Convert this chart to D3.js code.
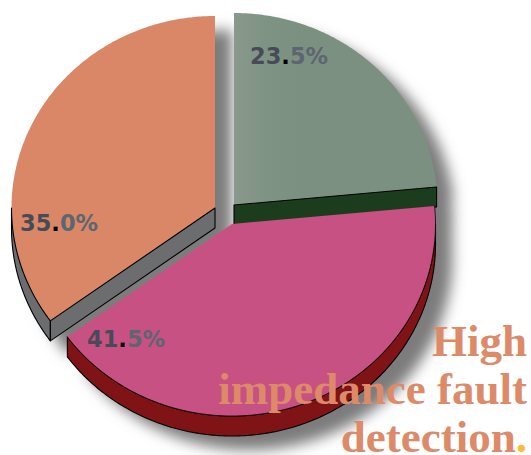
<!DOCTYPE html>
<html><head><meta charset="utf-8">
<script src="https://cdn.jsdelivr.net/npm/d3@7/dist/d3.min.js"></script>
<style>html,body{margin:0;padding:0;background:#fff}svg{display:block}</style>
</head><body><svg id="c" width="531" height="455"></svg>
<script>
const categories = ["A","B","C"];
const values = [23.5, 41.5, 35.0];
const whole = ["23","41","35"];
const fraction = ["5%","5%","0%"];
const titleLines = ["High","impedance fault","detection"];
const topColors = ["url(#gGreen)","#c85184","#d98766"];
const wallColors = ["#1c3d1d","#7f1315","#6b6d6e"];
const centers = [[234,205],[232,224],[215,208]];
const labelPos = [[250,64],[87,347],[20,231]];
const RX = 203.5, RY = 192, DEPTH = 20;

const svg = d3.select("#c");
const defs = svg.append("defs");
const grad = defs.append("linearGradient").attr("id","gGreen").attr("x1",0).attr("x2",1).attr("y1",0).attr("y2",0);
grad.append("stop").attr("offset","0").attr("stop-color","#89998d");
grad.append("stop").attr("offset","0.15").attr("stop-color","#7f9384");
grad.append("stop").attr("offset","0.35").attr("stop-color","#7b9080");
grad.append("stop").attr("offset","1").attr("stop-color","#7b9080");
const blur = defs.append("filter").attr("id","soft").attr("x","-20%").attr("y","-20%").attr("width","140%").attr("height","140%");
blur.append("feGaussianBlur").attr("stdDeviation",7);

const arcs = d3.pie().sort(null).value(d=>d)(values);
const line = d3.line();
const pt = (c,a,dy=0)=>[c[0]+RX*Math.sin(a), c[1]-RY*Math.cos(a)+dy];
const rim = (c,a0,a1,dy=0)=>{
  const n = Math.max(2,Math.ceil(Math.abs(a1-a0)/0.01));
  return d3.range(n+1).map(i=>pt(c,a0+(a1-a0)*i/n,dy));
};
const face = (arc,c,dy=0)=>[[c[0],c[1]+dy],...rim(c,arc.startAngle,arc.endAngle,dy)];
const closed = p=>line(p)+"Z";
const box = (p,q)=>[[p[0],p[1]],[q[0],q[1]],[q[0],q[1]+DEPTH],[p[0],p[1]+DEPTH]];

// soft drop shadows
const sh = svg.append("g").attr("filter","url(#soft)").attr("transform","translate(17,14)").attr("fill","#7c7c7c");
arcs.forEach((a,i)=>{
  const c = centers[i];
  sh.append("path").attr("d",closed(face(a,c)));
  sh.append("path").attr("d",closed(face(a,c,DEPTH)));
});

const wall = (p,fill)=>svg.append("path").attr("d",closed(p)).attr("fill",fill).attr("stroke","#000").attr("stroke-width",1.1).attr("stroke-linejoin","round");

// green slice
{
  const a=arcs[0], c=centers[0];
  svg.append("path").attr("d",closed(face(a,c))).attr("fill",topColors[0]);
  wall(box(c,pt(c,a.endAngle)),wallColors[0]);
}
// pink slice
{
  const a=arcs[1], c=centers[1];
  const outer = rim(c,Math.PI/2,a.endAngle);
  wall([...outer,...outer.map(p=>[p[0],p[1]+DEPTH]).reverse()],wallColors[1]);
  svg.append("path").attr("d",closed(face(a,c))).attr("fill",topColors[1]);
  svg.append("path").attr("d",line(rim(c,a.startAngle,a.endAngle))).attr("fill","none").attr("stroke","#000").attr("stroke-width",0.8);
}
// orange slice
{
  const a=arcs[2], c=centers[2];
  const outer = rim(c,a.startAngle,Math.PI*1.5);
  svg.append("path").attr("d",closed(face(a,c))).attr("fill",topColors[2]);
  wall([...outer,...outer.map(p=>[p[0],p[1]+DEPTH]).reverse()],wallColors[2]);
  wall(box(c,pt(c,a.startAngle)),wallColors[2]);
}

// percentage labels
const lab = svg.append("g").attr("font-family","'DejaVu Sans',sans-serif").attr("font-size",22.5).attr("font-weight",700);
arcs.forEach((a,i)=>{
  const t = lab.append("text").attr("x",labelPos[i][0]).attr("y",labelPos[i][1]);
  t.append("tspan").attr("fill","#474b57").text(whole[i]);
  t.append("tspan").attr("fill","#000").text(".");
  t.append("tspan").attr("fill","#5d6570").text(fraction[i]);
});

// title
const title = svg.append("g").attr("font-family","'Liberation Serif',serif").attr("font-size",45).attr("font-weight",700).attr("fill","#dc8a68").attr("text-anchor","end");
const baselines = [356,404,452];
titleLines.forEach((s,i)=>{
  const t = title.append("text").attr("x",527).attr("y",baselines[i]).text(s);
  if(i===2) t.append("tspan").attr("fill","#ffb93b").text(".");
});
</script></body></html>
